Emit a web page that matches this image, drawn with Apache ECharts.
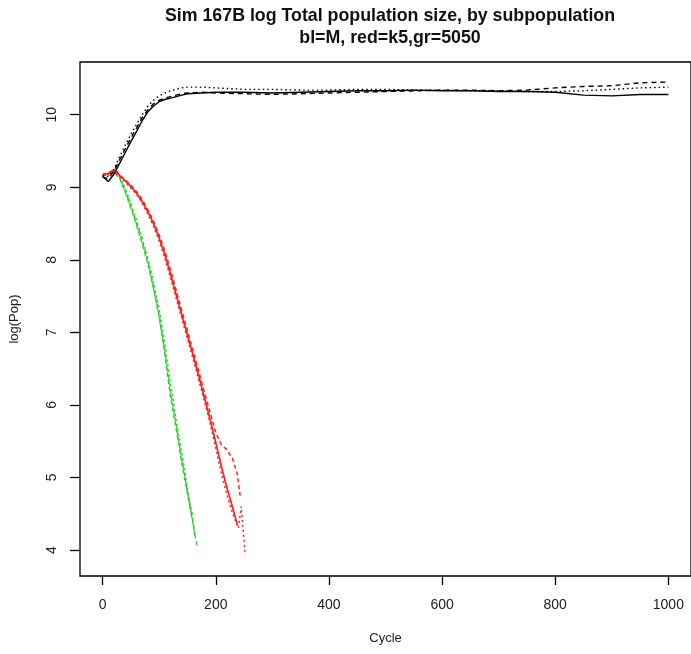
<!DOCTYPE html>
<html>
<head>
<meta charset="utf-8">
<script src="https://cdn.jsdelivr.net/npm/echarts@6/dist/echarts.min.js"></script>
<style>html,body{margin:0;padding:0;background:#fff}#c{width:691px;height:654px}</style>
</head>
<body>
<div id="c"></div>
<script>
// ---- data ----
var titleLines = ['Sim 167B log Total population size, by subpopulation', 'bl=M, red=k5,gr=5050'];
var xTicks = [0, 200, 400, 600, 800, 1000];
var yTicks = [4, 5, 6, 7, 8, 9, 10];

var blackCycles = [0,10,20,30,40,50,60,70,80,90,100,110,120,130,140,150,175,200,250,300,350,400,450,500,550,600,650,700,750,800,850,900,950,1000];
var blackSolid  = [9.15,9.08,9.18,9.33,9.48,9.63,9.77,9.92,10.04,10.12,10.18,10.21,10.23,10.25,10.27,10.29,10.30,10.31,10.31,10.30,10.31,10.32,10.33,10.33,10.34,10.33,10.33,10.32,10.32,10.31,10.27,10.26,10.28,10.28];
var blackDashed = [9.14,9.12,9.22,9.38,9.53,9.68,9.82,9.96,10.07,10.15,10.20,10.23,10.25,10.27,10.29,10.30,10.31,10.30,10.29,10.28,10.29,10.30,10.31,10.32,10.33,10.34,10.34,10.33,10.34,10.37,10.39,10.40,10.44,10.45];
var blackDotted = [9.16,9.15,9.25,9.42,9.58,9.73,9.87,10.00,10.12,10.20,10.26,10.30,10.33,10.35,10.37,10.38,10.38,10.37,10.35,10.35,10.34,10.34,10.35,10.35,10.34,10.34,10.33,10.33,10.32,10.32,10.33,10.35,10.37,10.38];

var red1Cycles = [0,10,20,25,30,40,50,60,70,80,90,100,110,120,130,140,150,160,170,180,190,200,210,220,230,238];
var red1Values = [9.17,9.19,9.23,9.22,9.16,9.09,9.01,8.92,8.80,8.66,8.50,8.30,8.07,7.80,7.52,7.24,6.96,6.68,6.40,6.10,5.80,5.48,5.15,4.85,4.58,4.35];
var red2Cycles = [0,10,20,30,40,50,60,70,80,90,100,110,120,130,140,150,160,170,180,190,200,210,220,230,238,243];
var red2Values = [9.18,9.20,9.24,9.17,9.10,9.03,8.94,8.83,8.69,8.53,8.34,8.12,7.86,7.58,7.30,7.02,6.74,6.46,6.17,5.90,5.62,5.45,5.38,5.25,5.05,4.75];
var red3Cycles = [0,10,20,30,40,50,60,70,80,90,100,110,120,130,140,150,160,170,180,190,200,210,220,230,240,245,252];
var red3Values = [9.16,9.18,9.22,9.15,9.07,8.99,8.90,8.78,8.63,8.46,8.26,8.02,7.75,7.47,7.19,6.91,6.63,6.34,6.05,5.75,5.40,5.05,4.75,4.50,4.30,4.60,3.93];

var green1Cycles = [0,10,20,25,30,40,50,60,70,80,90,100,110,120,130,140,150,155,160,163];
var green1Values = [9.16,9.19,9.23,9.22,9.14,8.95,8.74,8.50,8.26,7.98,7.62,7.24,6.70,6.12,5.68,5.20,4.78,4.58,4.38,4.20];
var green2Cycles = [0,10,20,30,40,50,60,70,80,90,100,110,120,130,140,150,155,160];
var green2Values = [9.15,9.17,9.22,9.15,8.98,8.78,8.55,8.30,8.02,7.70,7.32,6.85,6.30,5.80,5.35,4.85,4.62,4.45];
var green3Cycles = [0,10,20,30,40,50,60,70,80,90,100,110,120,130,140,150,157,165,167];
var green3Values = [9.17,9.18,9.21,9.12,8.93,8.71,8.47,8.22,7.94,7.60,7.20,6.75,6.20,5.72,5.25,4.80,4.48,4.13,4.05];

// ---- chart ----
var FONT = "'Liberation Sans', Arial, sans-serif";
function pairs(xs, ys) { return xs.map(function (x, i) { return [x, ys[i]]; }); }
function line(xs, ys, color, type, width) {
  return { type: 'line', data: pairs(xs, ys), showSymbol: false, symbol: 'none', silent: true,
    animation: false, lineStyle: { color: color, type: type, width: width } };
}
function plain(v) { return String(v); }
var RED = '#ff2020', GREEN = '#2ccc2c';
var chart = echarts.init(document.getElementById('c'), null, { renderer: 'canvas' });
chart.setOption({
  backgroundColor: '#fff',
  animation: false,
  title: {
    text: titleLines.join('\n'), left: 385, top: 0, textAlign: 'center',
    textStyle: { fontFamily: FONT, fontWeight: 'bold', fontSize: 17.8, lineHeight: 22, color: '#111' }
  },
  grid: { left: 80, top: 62, width: 614.5, height: 514, show: true, borderColor: '#000', borderWidth: 1.3, backgroundColor: 'transparent' },
  xAxis: {
    type: 'value', min: -40, max: 1040,
    name: 'Cycle', nameLocation: 'middle', nameGap: 56,
    nameTextStyle: { fontFamily: FONT, fontSize: 13, color: '#222' },
    axisLine: { show: false, onZero: false },
    splitLine: { show: false },
    axisTick: { show: true, customValues: xTicks, length: 9, lineStyle: { color: '#000', width: 1.3 } },
    axisLabel: { customValues: xTicks, margin: 22, fontFamily: FONT, fontSize: 14, color: '#222', formatter: plain }
  },
  yAxis: {
    type: 'value', min: 3.642, max: 10.727,
    name: 'log(Pop)', nameLocation: 'middle', nameGap: 59, nameRotate: 90,
    nameTextStyle: { fontFamily: FONT, fontSize: 13, color: '#222' },
    axisLine: { show: false, onZero: false },
    splitLine: { show: false },
    axisTick: { show: true, customValues: yTicks, length: 10, lineStyle: { color: '#000', width: 1.3 } },
    axisLabel: { customValues: yTicks, rotate: 90, margin: 21, fontFamily: FONT, fontSize: 14, color: '#222', formatter: plain }
  },
  series: [
    line(green1Cycles, green1Values, GREEN, [4, 3], 1.6),
    line(green2Cycles, green2Values, GREEN, [2, 3], 1.4),
    line(green3Cycles, green3Values, GREEN, [4, 3], 1.3),
    line(red1Cycles, red1Values, RED, 'solid', 1.7),
    line(red2Cycles, red2Values, RED, [4, 3], 1.5),
    line(red3Cycles, red3Values, RED, [2, 3], 1.5),
    line(blackCycles, blackSolid, '#000', 'solid', 1.4),
    line(blackCycles, blackDashed, '#000', [5, 4], 1.4),
    line(blackCycles, blackDotted, '#000', [1.5, 3], 1.4)
  ]
});
</script>
</body>
</html>
